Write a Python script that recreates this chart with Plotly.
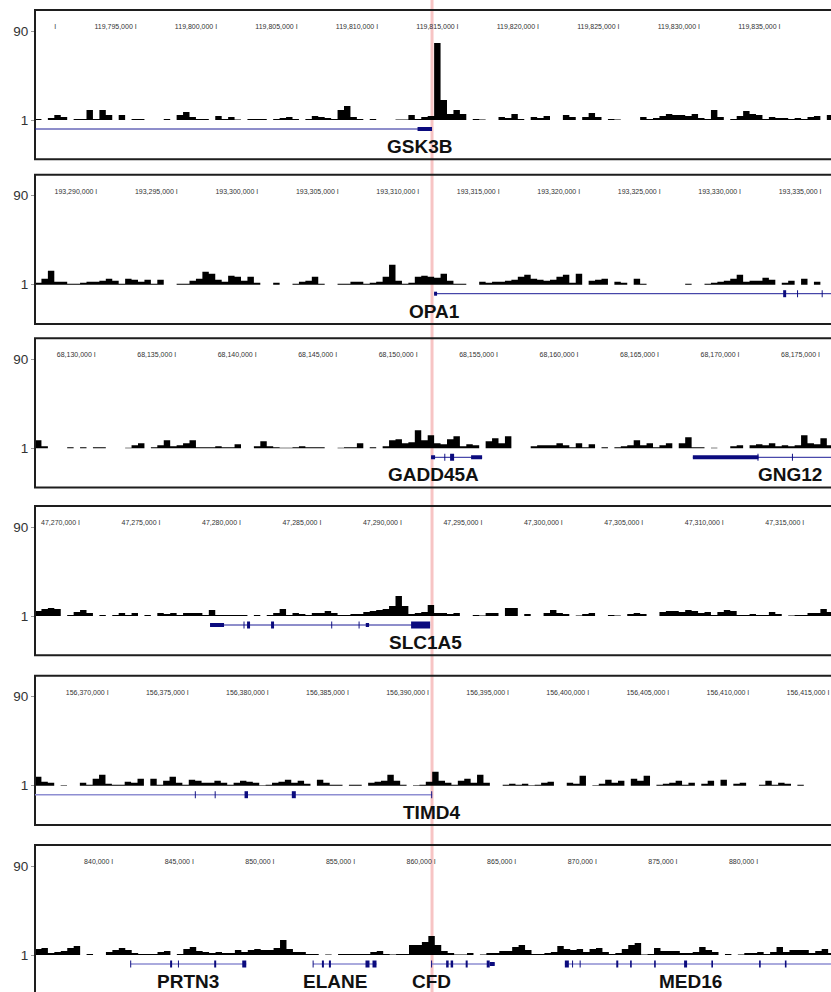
import plotly.graph_objects as go

FIG_W, FIG_H = 831, 992
BIN = 400  # bp per signal bin

# ---------------- data ----------------
view_start = [119788680, 193286128, 68126227, 47267203, 156365401, 835143]
view_end = [119838140, 193335588, 68175687, 47316663, 156415100, 884521]
tss_gsk3b = 119813350

ticks_1 = [119790000, 119795000, 119800000, 119805000, 119810000, 119815000, 119820000, 119825000, 119830000, 119835000]
tick_labels_1 = ["", "119,795,000", "119,800,000", "119,805,000", "119,810,000", "119,815,000", "119,820,000", "119,825,000", "119,830,000", "119,835,000"]
ticks_2 = [193290000, 193295000, 193300000, 193305000, 193310000, 193315000, 193320000, 193325000, 193330000, 193335000]
tick_labels_2 = ["193,290,000", "193,295,000", "193,300,000", "193,305,000", "193,310,000", "193,315,000", "193,320,000", "193,325,000", "193,330,000", "193,335,000"]
ticks_3 = [68130000, 68135000, 68140000, 68145000, 68150000, 68155000, 68160000, 68165000, 68170000, 68175000]
tick_labels_3 = ["68,130,000", "68,135,000", "68,140,000", "68,145,000", "68,150,000", "68,155,000", "68,160,000", "68,165,000", "68,170,000", "68,175,000"]
ticks_4 = [47270000, 47275000, 47280000, 47285000, 47290000, 47295000, 47300000, 47305000, 47310000, 47315000]
tick_labels_4 = ["47,270,000", "47,275,000", "47,280,000", "47,285,000", "47,290,000", "47,295,000", "47,300,000", "47,305,000", "47,310,000", "47,315,000"]
ticks_5 = [156370000, 156375000, 156380000, 156385000, 156390000, 156395000, 156400000, 156405000, 156410000, 156415000]
tick_labels_5 = ["156,370,000", "156,375,000", "156,380,000", "156,385,000", "156,390,000", "156,395,000", "156,400,000", "156,405,000", "156,410,000", "156,415,000"]
ticks_6 = [840000, 845000, 850000, 855000, 860000, 865000, 870000, 875000, 880000, 885000]
tick_labels_6 = ["840,000", "845,000", "850,000", "855,000", "860,000", "865,000", "870,000", "875,000", "880,000", "885,000"]

sig_gsk3b = [1, 0, 2, 5, 3, 0, 1, 1, 10, 1, 10, 5, 0, 5, 0, 1, 1, 0, 0, 0,
             1, 0, 5, 8, 3, 1, 1, 0, 4, 1, 3, 0.5, 0, 1, 1, 1, 0, 1, 2, 3,
             1, 0, 1, 4, 3, 2, 1, 10, 14, 3, 1, 0, 1, 0, 0, 0, 0.5, 0.5, 5, 1,
             3, 4, 77, 20, 6, 10, 6, 0, 1, 0.5, 0, 0, 3, 2, 6, 1, 0, 3, 2, 4,
             0, 0, 5, 3, 0, 3, 7, 3, 0, 1, 0.5, 0, 0, 0, 3, 1, 2, 4, 6, 5,
             5, 4, 6, 2, 1, 10, 3, 0, 1, 4, 9, 6, 5, 1, 3, 2, 2, 1, 2, 1,
             3, 4, 0, 5]
sig_opa1 = [2, 6, 14, 3, 3, 1, 1, 2, 3, 3, 4, 6, 4, 1, 6, 5, 3, 5, 1, 5,
            0, 0, 1, 1, 4, 6, 13, 11, 5, 3, 9, 8, 4, 8, 2, 0, 0, 2, 0, 0,
            1, 3, 4, 8, 1, 0, 0, 1, 1, 3, 3, 1, 2, 3, 8, 20, 4, 1, 2, 8,
            9, 8, 7, 11, 4, 1, 1, 0, 0, 3, 2, 3, 3, 4, 5, 8, 10, 6, 5, 4,
            5, 8, 10, 2, 11, 0, 4, 5, 6, 0, 3, 2, 0, 6, 1, 0, 0, 0, 0, 0,
            0, 1, 0, 0, 1, 2, 3, 4, 6, 10, 3, 4, 4, 7, 5, 0, 2, 4, 0, 6,
            0, 3, 0, 0]
sig_gadd45a = [8, 2, 0, 0, 0, 1, 0, 1, 0, 1, 1, 0, 0, 0, 0.5, 3, 5, 0, 1, 3,
               8, 2, 3, 5, 8, 1, 1, 1, 2, 1, 1, 4, 0, 0, 2, 7, 2, 1, 0.5, 0.5,
               1, 2, 1, 1, 1, 0, 0, 0.5, 1, 1, 5, 0, 1, 0, 2, 8, 9, 5, 6, 18,
               8, 13, 5, 4, 9, 12, 2, 4, 3, 0, 7, 10, 5, 12, 0, 0, 0, 2, 3, 3,
               3, 5, 3, 1, 5, 1, 4, 0, 1, 0, 1, 2, 3, 8, 3, 5, 1, 3, 5, 0,
               5, 11, 1, 1, 0, 0.5, 0, 0, 2, 3, 0, 3, 4, 3, 5, 2, 3, 2, 3, 13,
               5, 4, 10, 3]
sig_slc1a5 = [5, 7, 8, 7, 0, 1, 4, 6, 3, 0, 1, 0, 1, 3, 1, 3, 0, 1, 0, 3,
              2, 3, 1, 3, 3, 3, 1, 6, 1, 1, 1, 1, 1, 0, 1, 0, 1, 3, 7, 1,
              3, 2, 1, 3, 3, 5, 3, 1, 1, 2, 2, 4, 5, 6, 7, 10, 20, 10, 2, 3,
              4, 11, 3, 3, 2, 3, 0, 0, 1, 0.5, 3, 3, 0, 8, 8, 0, 2, 0, 0, 3,
              6, 3, 2, 0, 0.5, 2, 3, 0, 0, 1, 0.5, 0, 2, 3, 2, 0, 0, 4, 5, 5,
              4, 6, 5, 3, 4, 1, 4, 6, 5, 1, 1, 2, 1, 1, 4, 2, 0, 0.5, 1, 1,
              3, 3, 7, 4]
sig_timd4 = [9, 4, 3, 0, 0.5, 0, 0, 3, 1, 7, 11, 2, 1, 1, 4, 3, 7, 0, 7, 1,
             5, 9, 3, 1, 6, 5, 3, 3, 5, 3, 1, 3, 5, 4, 3, 0.5, 1, 3, 4, 6,
             3, 5, 2, 0, 6, 3, 1, 1, 0, 1, 1, 0, 3, 4, 5, 11, 5, 1, 0, 0.5,
             1, 4, 14, 5, 3, 1, 5, 7, 3, 11, 3, 0, 0, 1, 2, 1, 2, 0.5, 1, 3,
             4, 0, 0, 3, 2, 10, 0, 0.5, 2, 6, 3, 5, 0, 7, 5, 10, 0, 1, 2, 3,
             5, 1, 3, 0, 2, 5, 0, 6, 0, 2, 3, 0, 0, 1, 5, 1, 3, 2, 0, 1,
             0, 0, 0, 0]
sig_cfd = [6, 7, 2, 3, 4, 7, 9, 0, 1, 0, 0, 3, 5, 7, 5, 2, 1, 1, 1, 3,
           4, 0, 1, 6, 8, 4, 3, 2, 3, 2, 2, 5, 3, 5, 6, 5, 5, 7, 15, 6,
           3, 3, 1, 1, 0, 0.5, 0, 1, 1, 1, 1, 1, 3, 4, 1, 0.5, 1, 1, 10, 10,
           13, 19, 10, 4, 2, 0.5, 0.5, 2, 0, 0.5, 2, 2, 4, 4, 8, 10, 5, 1, 1, 2,
           3, 9, 6, 5, 6, 3, 6, 7, 3, 1, 2, 6, 10, 12, 0.5, 1, 7, 4, 4, 4,
           2, 2, 3, 8, 5, 3, 0, 1, 0, 0.5, 2, 2, 3, 1, 3, 8, 3, 5, 5, 5,
           2, 4, 6, 2]
signals = [sig_gsk3b, sig_opa1, sig_gadd45a, sig_slc1a5, sig_timd4, sig_cfd]
ticks = [ticks_1, ticks_2, ticks_3, ticks_4, ticks_5, ticks_6]
tick_labels = [tick_labels_1, tick_labels_2, tick_labels_3, tick_labels_4, tick_labels_5, tick_labels_6]

# genes: (name, transcript start, transcript end, label position)
genes_1 = [("GSK3B", 119700000, 119813350, 119812600)]
exons_1 = [[(119812450, 119813350, "utr")]]
genes_2 = [("OPA1", 193310926, 193400000, 193310950)]
exons_2 = [[(193310926, 193311110, "utr"), (193332616, 193332802, "cds"),
            (193333480, 193333540, "cds"), (193335010, 193335070, "cds")]]
genes_3 = [("GADD45A", 68150838, 68154008, 68150986), ("GNG12", 68167103, 68200000, 68173150)]
exons_3 = [[(68150838, 68151087, "utr"), (68151660, 68151720, "cds"),
            (68152019, 68152268, "cds"), (68153324, 68154008, "utr")],
           [(68167103, 68171180, "utr"), (68171120, 68171180, "cds"),
            (68173260, 68173320, "cds")]]
genes_4 = [("SLC1A5", 47278079, 47291752, 47291442)]
exons_4 = [[(47278079, 47278949, "utr"), (47280160, 47280220, "cds"),
            (47280379, 47280565, "cds"), (47281870, 47282056, "cds"),
            (47285610, 47285670, "cds"), (47287310, 47287370, "cds"),
            (47287756, 47287961, "utr"), (47290571, 47291752, "cds")]]
genes_5 = [("TIMD4", 156300000, 156390199, 156390137)]
exons_5 = [[(156375380, 156375440, "cds"), (156376620, 156376680, "cds"),
            (156378484, 156378701, "cds"), (156381436, 156381685, "cds"),
            (156390140, 156390199, "cds")]]
genes_6 = [("PRTN3", 841082, 848248, 844612), ("ELANE", 852393, 856327, 853779),
           ("CFD", 859745, 863661, 859745), ("MED16", 868011, 900000, 875780)]
exons_6 = [[(841050, 841110, "cds"), (843524, 843648, "cds"), (844010, 844070, "cds"),
            (846259, 846383, "cds"), (847999, 848248, "cds")],
           [(852365, 852425, "cds"), (852940, 853064, "cds"), (853375, 853499, "cds"),
            (855644, 855893, "cds"), (856079, 856327, "cds")],
           [(859715, 859775, "cds"), (860647, 860802, "cds"), (860926, 861081, "cds"),
            (861859, 861983, "cds"), (863164, 863350, "cds"), (863350, 863661, "utr")],
           [(868011, 868260, "cds"), (868460, 868520, "cds"), (868930, 868990, "cds"),
            (871200, 871324, "cds"), (872060, 872160, "cds"), (873550, 873650, "cds"),
            (875407, 875593, "cds"), (877100, 877200, "cds"), (880060, 880160, "cds"),
            (881660, 881760, "cds")]]
genes = [genes_1, genes_2, genes_3, genes_4, genes_5, genes_6]
exons = [exons_1, exons_2, exons_3, exons_4, exons_5, exons_6]

# ---------------- layout constants (window pixels) ----------------
panel_top = [10, 174.7, 338.3, 506, 675.7, 845]
PANEL_H = 149.3
BASE_OFF = 110.0       # px from panel top to the "1" baseline
GENE_Y = -8.0          # data units (1 unit = 1 px)
LABEL_Y = -25.5
TICK_Y = 93.6
EXON_H = {"cds": 7.0, "utr": 4.0}
line_colors = ["#1c1c96", "#1c1c96", "#1c1c96", "#1c1c96", "#8e8ed2", "#8e8ed2"]
line_widths = [1, 1, 1, 1, 1.6, 1.6]
EXON_COLOR = "#0b0b7e"
FONT = "Liberation Sans, Arial, Helvetica, sans-serif"
X_LEFT = 35

fig = go.Figure()
shapes, annotations = [], []
layout_axes = {}

for k in range(6):
    xa = "x" if k == 0 else f"x{k + 1}"
    ya = "y" if k == 0 else f"y{k + 1}"
    xname = "xaxis" if k == 0 else f"xaxis{k + 1}"
    yname = "yaxis" if k == 0 else f"yaxis{k + 1}"
    T = panel_top[k]
    B = T + PANEL_H
    base = T + BASE_OFF
    bot_px = min(B, FIG_H)
    y_top = 1 + (base - T)
    y_bot = 1 - (bot_px - base)
    vs, ve = view_start[k], view_end[k]

    layout_axes[xname] = dict(domain=[X_LEFT / FIG_W, 1], range=[vs, ve], visible=False,
                              anchor=ya, fixedrange=True)
    layout_axes[yname] = dict(domain=[1 - bot_px / FIG_H, 1 - T / FIG_H], range=[y_bot, y_top],
                              anchor=xa, tickvals=[1, 90], ticktext=["1", "90"],
                              showgrid=False, zeroline=False, showline=False,
                              ticks="outside", ticklen=3, tickcolor="#999999", tickwidth=1,
                              tickfont=dict(family=FONT, size=13.5, color="#333333"),
                              fixedrange=True)

    # signal track: stepped profile above the baseline at 1
    sig = signals[k]
    xs = [vs] + [vs + BIN * i for i in range(len(sig))] + [vs + BIN * len(sig)]
    ys = [1] + [1 + v for v in sig] + [1]
    fig.add_trace(go.Scatter(x=xs, y=ys, mode="lines", fill="toself", fillcolor="black",
                             line=dict(width=0, color="black", shape="hv"), xaxis=xa, yaxis=ya,
                             hoverinfo="skip", showlegend=False))

    # ruler tick labels
    fig.add_trace(go.Scatter(x=ticks[k], y=[TICK_Y] * len(ticks[k]), mode="text",
                             text=[(t + " I") if t else "I" for t in tick_labels[k]],
                             textposition="middle left", cliponaxis=False,
                             textfont=dict(family=FONT, size=7, color="#333333"),
                             xaxis=xa, yaxis=ya, hoverinfo="skip", showlegend=False))

    # frame
    shapes.append(dict(type="rect", xref="paper", yref="paper",
                       x0=X_LEFT / FIG_W, x1=1.03, y0=1 - B / FIG_H, y1=1 - T / FIG_H,
                       line=dict(color="#1e1e1e", width=2), fillcolor="rgba(0,0,0,0)",
                       layer="above"))

    # genes
    for g, ex in zip(genes[k], exons[k]):
        name, g0, g1, lab = g
        shapes.append(dict(type="line", xref=xa, yref=ya, x0=max(g0, vs), x1=min(g1, ve),
                           y0=GENE_Y, y1=GENE_Y,
                           line=dict(color=line_colors[k], width=line_widths[k]), layer="above"))
        for e0, e1, kind in ex:
            h = EXON_H[kind]
            shapes.append(dict(type="rect", xref=xa, yref=ya, x0=e0, x1=e1,
                               y0=GENE_Y - h / 2, y1=GENE_Y + h / 2,
                               line=dict(width=0), fillcolor=EXON_COLOR, layer="above"))
        annotations.append(dict(xref=xa, yref=ya, x=lab, y=LABEL_Y, text=f"<b>{name}</b>",
                                showarrow=False, xanchor="center", yanchor="middle",
                                font=dict(family=FONT, size=19, color="#111111")))

# red guide line at the GSK3B TSS (aligned across panels)
shapes.append(dict(type="line", xref="x", yref="paper", x0=tss_gsk3b, x1=tss_gsk3b,
                   y0=-0.01, y1=1.02, line=dict(color="#f7c4c4", width=3), layer="below"))

fig.update_layout(width=FIG_W, height=FIG_H, margin=dict(l=0, r=0, t=0, b=0),
                  paper_bgcolor="white", plot_bgcolor="rgba(0,0,0,0)",
                  showlegend=False, shapes=shapes, annotations=annotations,
                  font=dict(family=FONT), **layout_axes)

fig.write_html("out.html", config={"displayModeBar": False},
               post_script="document.body.style.margin='0px';document.body.style.overflow='hidden';")
